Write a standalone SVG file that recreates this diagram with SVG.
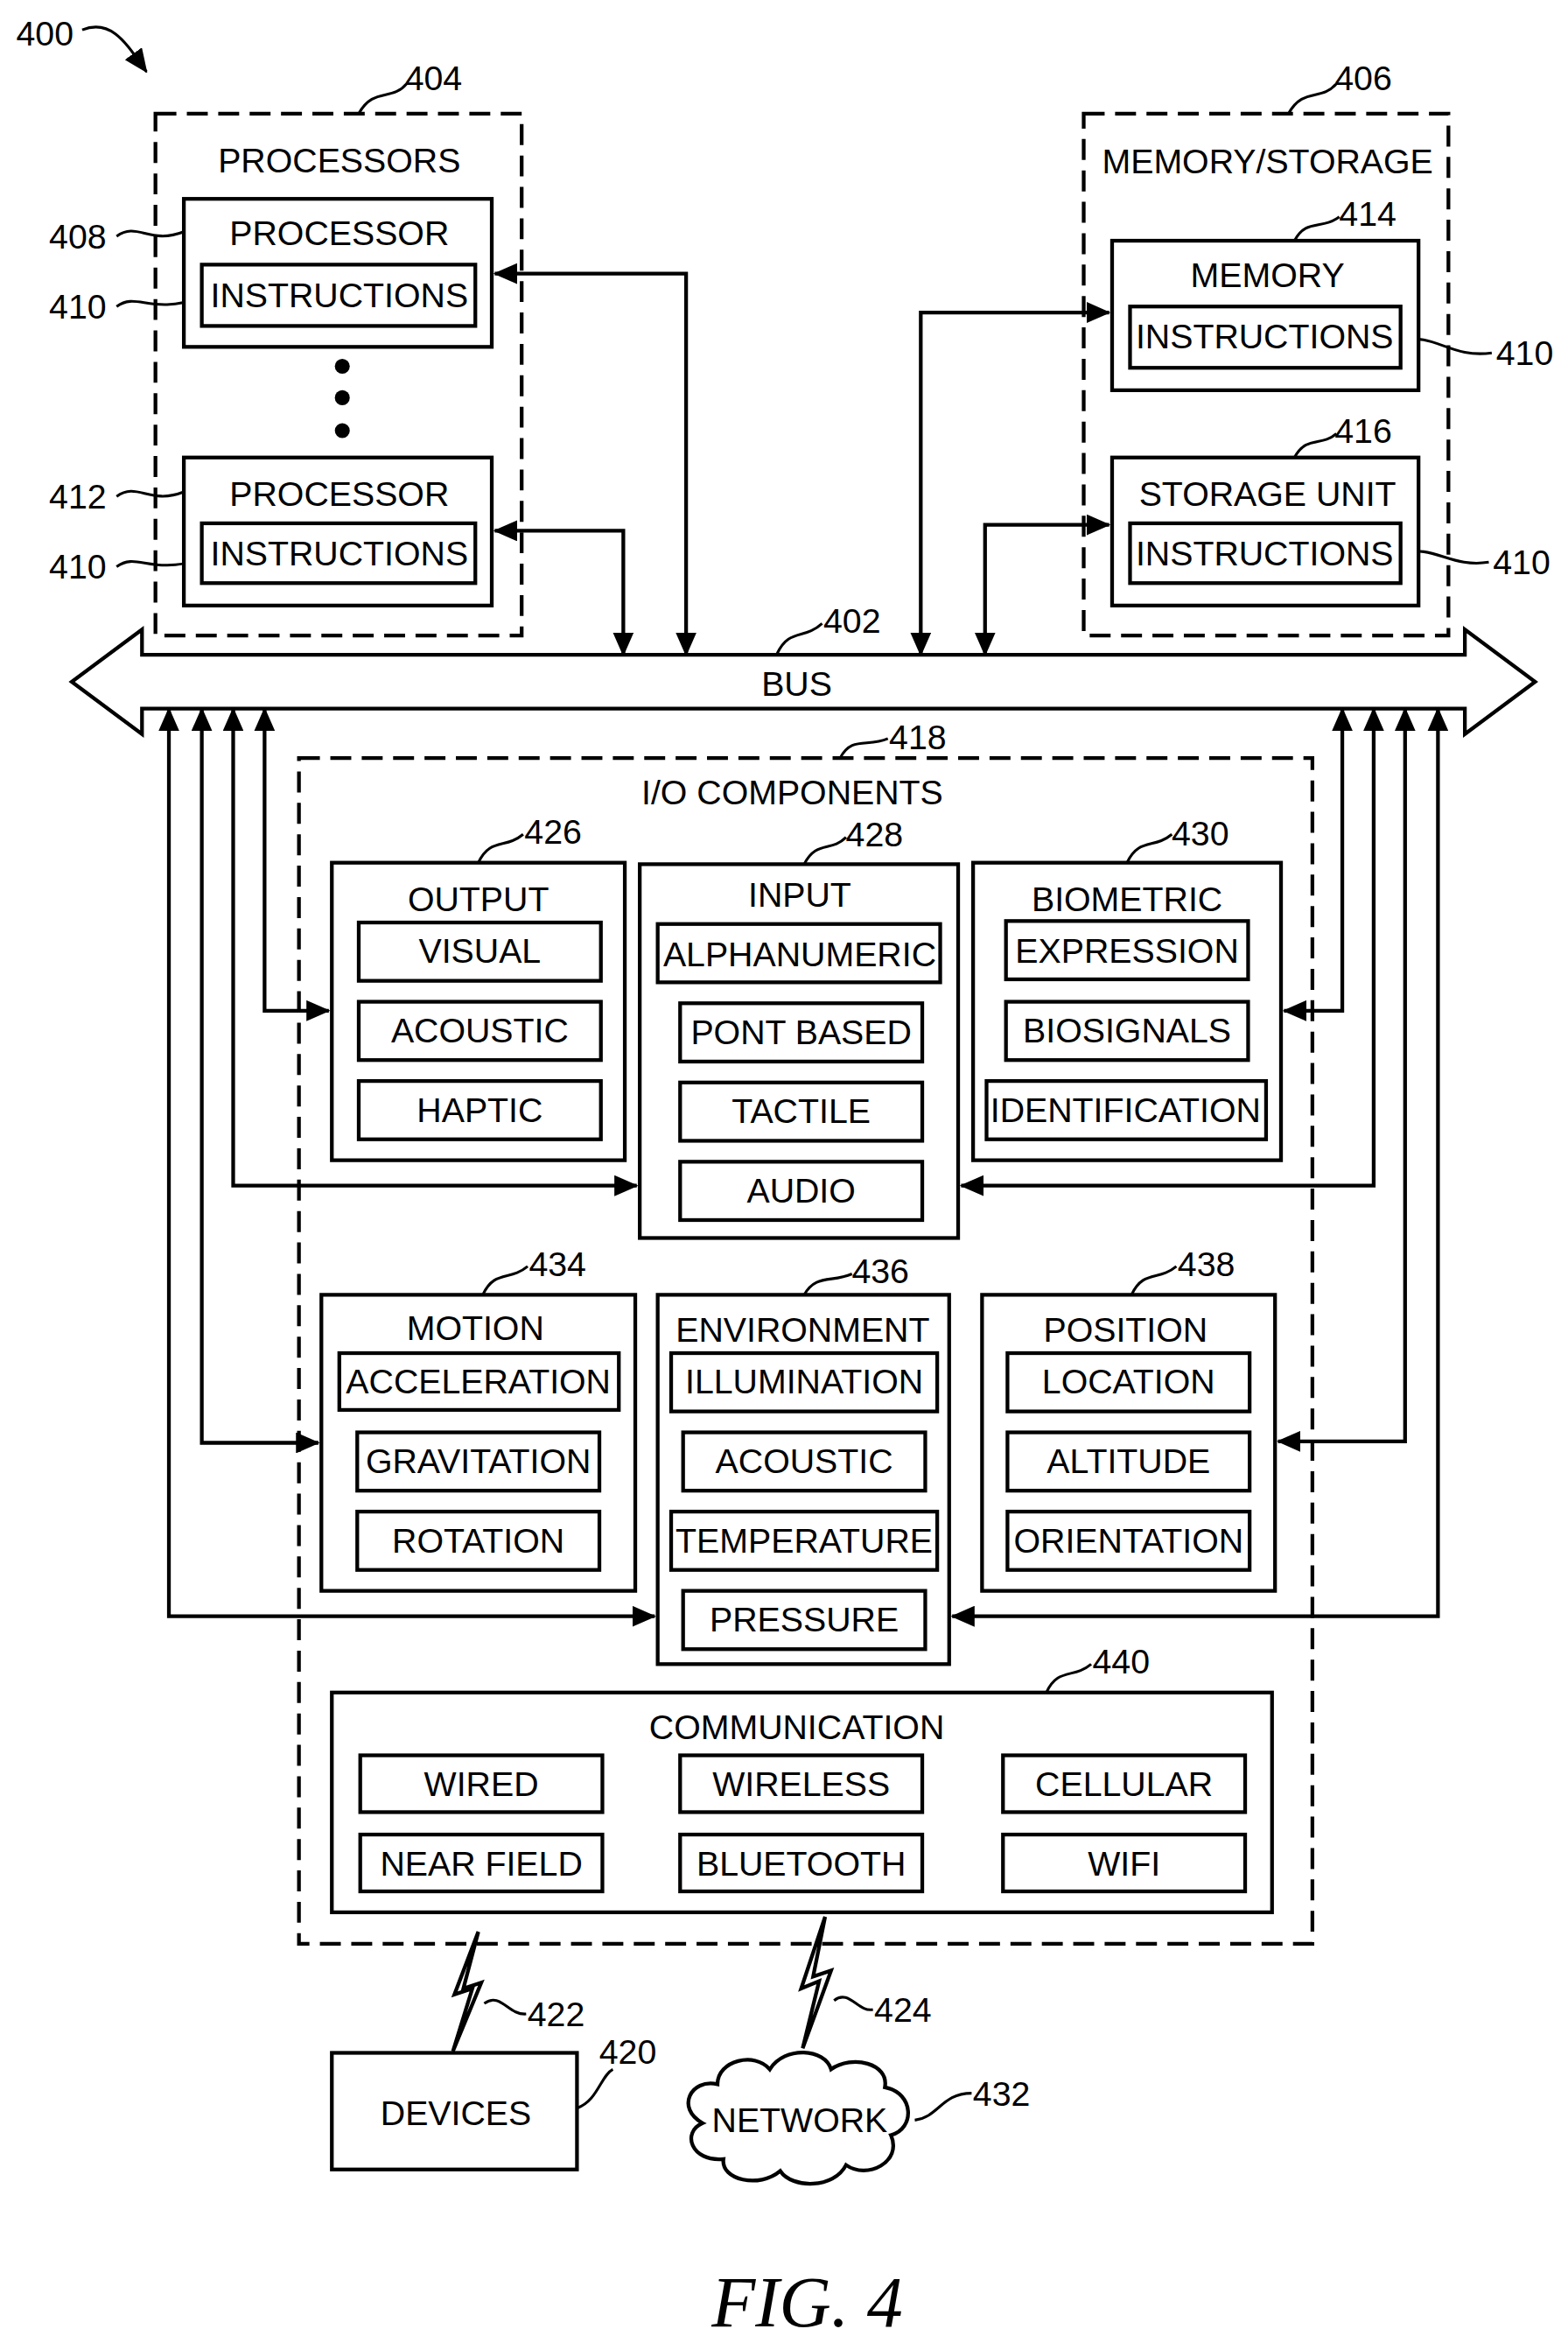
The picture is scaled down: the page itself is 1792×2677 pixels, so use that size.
<svg xmlns="http://www.w3.org/2000/svg" width="1792" height="2677" viewBox="0 0 1792 2677">
<style>
text{font-family:"Liberation Sans",Arial,sans-serif;font-size:23px;fill:#000;text-anchor:middle;dominant-baseline:central}
.l{text-anchor:start}
.b{fill:#fff;stroke:#000;stroke-width:2.5}
.d{fill:none;stroke:#000;stroke-width:2.5;stroke-dasharray:14 7}
.c{fill:none;stroke:#000;stroke-width:2.5}
.ld{fill:none;stroke:#000;stroke-width:1.8}
</style>
<defs>
<marker id="a" markerUnits="userSpaceOnUse" markerWidth="16" markerHeight="14" refX="15" refY="7" orient="auto-start-reverse"><path d="M0,0 L16,7 L0,14 Z"/></marker>
</defs>
<rect width="1792" height="2677" fill="#fff"/>
<g transform="scale(1.7083)">
<g id="labels">
<text x="30" y="22">400</text>
<path class="ld" d="M55,20 C75,12 85,30 98,48" marker-end="url(#a)"/>
<text x="290" y="52">404</text><path class="ld" d="M240,76 C250,58 262,68 272,56"/>
<text x="912" y="52">406</text><path class="ld" d="M862,76 C872,58 884,68 894,56"/>
<text x="52" y="158">408</text><path class="ld" d="M78,158 C92,148 100,164 123,155"/>
<text x="52" y="205">410</text><path class="ld" d="M78,205 C92,195 100,211 135,199"/>
<text x="52" y="332">412</text><path class="ld" d="M78,332 C92,322 100,338 123,329"/>
<text x="52" y="379">410</text><path class="ld" d="M78,379 C92,369 100,385 135,374"/>
<text x="915" y="143">414</text><path class="ld" d="M866,161 C874,146 884,154 896,145"/>
<text x="912" y="288">416</text><path class="ld" d="M866,306 C874,291 884,299 894,290"/>
<text x="1020" y="236">410</text><path class="ld" d="M937,228 C960,222 970,240 998,236"/>
<text x="1018" y="376">410</text><path class="ld" d="M937,370 C960,364 970,380 996,376"/>
<text x="570" y="415">402</text><path class="ld" d="M520,437 C528,420 538,428 550,417"/>
<text x="614" y="493">418</text><path class="ld" d="M562,507 C570,492 580,500 594,494"/>
<text x="370" y="556">426</text><path class="ld" d="M320,577 C328,560 338,568 350,558"/>
<text x="585" y="558">428</text><path class="ld" d="M538,578 C546,562 556,570 566,560"/>
<text x="803" y="557">430</text><path class="ld" d="M754,577 C762,560 772,568 784,558"/>
<text x="373" y="845">434</text><path class="ld" d="M323,866 C331,849 341,857 353,847"/>
<text x="589" y="850">436</text><path class="ld" d="M538,866 C546,852 556,858 570,852"/>
<text x="807" y="845">438</text><path class="ld" d="M757,866 C765,849 775,857 787,847"/>
<text x="750" y="1111">440</text><path class="ld" d="M700,1132 C708,1115 718,1123 730,1113"/>
<text x="372" y="1347">422</text><path class="ld" d="M324,1340 C335,1332 340,1348 352,1347"/>
<text x="604" y="1344">424</text><path class="ld" d="M558,1338 C568,1330 574,1346 584,1344"/>
<text x="420" y="1372">420</text><path class="ld" d="M386,1410 C400,1405 402,1388 410,1384"/>
<text x="670" y="1400">432</text><path class="ld" d="M612,1418 C628,1416 630,1400 650,1400"/>
</g>
<g id="n404"><rect class="d" x="104" y="76" width="245" height="349"/><text x="227" y="107">PROCESSORS</text></g>
<g id="n408"><rect class="b" x="123" y="133" width="206" height="99"/><text x="227" y="156">PROCESSOR</text><rect class="b" x="135" y="177" width="183" height="41"/><text x="227" y="197">INSTRUCTIONS</text></g>
<g id="dots"><circle cx="229" cy="245" r="5"/><circle cx="229" cy="266" r="5"/><circle cx="229" cy="288" r="5"/></g>
<g id="n412"><rect class="b" x="123" y="306" width="206" height="99"/><text x="227" y="330">PROCESSOR</text><rect class="b" x="135" y="350" width="183" height="40"/><text x="227" y="370">INSTRUCTIONS</text></g>
<g id="n406"><rect class="d" x="725" y="76" width="244" height="349"/><text x="848" y="108">MEMORY/STORAGE</text></g>
<g id="n414"><rect class="b" x="744" y="161" width="205" height="100"/><text x="848" y="184">MEMORY</text><rect class="b" x="756" y="205" width="181" height="41"/><text x="846" y="225">INSTRUCTIONS</text></g>
<g id="n416"><rect class="b" x="744" y="306" width="205" height="99"/><text x="848" y="330">STORAGE UNIT</text><rect class="b" x="756" y="350" width="181" height="40"/><text x="846" y="370">INSTRUCTIONS</text></g>
<g id="bus"><path class="b" d="M48,456 L95,421 L95,438 L980,438 L980,421 L1027,456 L980,491 L980,474 L95,474 L95,491 Z"/><text x="533" y="457">BUS</text></g>
<g id="n418"><rect class="d" x="200" y="507" width="678" height="793"/><text x="530" y="530">I/O COMPONENTS</text></g>
<g id="connectors">
<path class="c" d="M459,438 V183 H331" marker-start="url(#a)" marker-end="url(#a)"/>
<path class="c" d="M417,438 V355 H331" marker-start="url(#a)" marker-end="url(#a)"/>
<path class="c" d="M616,438 V209 H742" marker-start="url(#a)" marker-end="url(#a)"/>
<path class="c" d="M659,438 V351 H742" marker-start="url(#a)" marker-end="url(#a)"/>
<path class="c" d="M177,474 V676 H220" marker-start="url(#a)" marker-end="url(#a)"/>
<path class="c" d="M156,474 V793 H426" marker-start="url(#a)" marker-end="url(#a)"/>
<path class="c" d="M135,474 V965 H213" marker-start="url(#a)" marker-end="url(#a)"/>
<path class="c" d="M113,474 V1081 H438" marker-start="url(#a)" marker-end="url(#a)"/>
<path class="c" d="M898,474 V676 H859" marker-start="url(#a)" marker-end="url(#a)"/>
<path class="c" d="M919,474 V793 H643" marker-start="url(#a)" marker-end="url(#a)"/>
<path class="c" d="M940,474 V964 H855" marker-start="url(#a)" marker-end="url(#a)"/>
<path class="c" d="M962,474 V1081 H637" marker-start="url(#a)" marker-end="url(#a)"/>
<path class="c" d="M303,1372 L316,1330 L304,1334 L320,1292 L310,1330 L322,1326 Z" fill="#fff"/>
<path class="c" d="M537,1370 L548,1325 L536,1330 L552,1282 L544,1322 L556,1318 Z" fill="#fff"/>
</g>
<g id="n426"><rect class="b" x="222" y="577" width="196" height="199"/><text x="320" y="601">OUTPUT</text>
<rect class="b" x="240" y="617" width="162" height="39"/><text x="321" y="636">VISUAL</text>
<rect class="b" x="240" y="670" width="162" height="39"/><text x="321" y="689">ACOUSTIC</text>
<rect class="b" x="240" y="723" width="162" height="39"/><text x="321" y="742">HAPTIC</text></g>
<g id="n428"><rect class="b" x="428" y="578" width="213" height="250"/><text x="535" y="598">INPUT</text>
<rect class="b" x="440" y="618" width="189" height="39"/><text x="535" y="638">ALPHANUMERIC</text>
<rect class="b" x="455" y="671" width="162" height="39"/><text x="536" y="690">PONT BASED</text>
<rect class="b" x="455" y="724" width="162" height="39"/><text x="536" y="743">TACTILE</text>
<rect class="b" x="455" y="777" width="162" height="39"/><text x="536" y="796">AUDIO</text></g>
<g id="n430"><rect class="b" x="651" y="577" width="206" height="199"/><text x="754" y="601">BIOMETRIC</text>
<rect class="b" x="673" y="616" width="162" height="39"/><text x="754" y="636">EXPRESSION</text>
<rect class="b" x="673" y="670" width="162" height="39"/><text x="754" y="689">BIOSIGNALS</text>
<rect class="b" x="660" y="723" width="187" height="39"/><text x="753" y="742">IDENTIFICATION</text></g>
<g id="n434"><rect class="b" x="215" y="866" width="210" height="198"/><text x="318" y="888">MOTION</text>
<rect class="b" x="227" y="905" width="187" height="38"/><text x="320" y="924">ACCELERATION</text>
<rect class="b" x="239" y="958" width="162" height="39"/><text x="320" y="977">GRAVITATION</text>
<rect class="b" x="239" y="1011" width="162" height="39"/><text x="320" y="1030">ROTATION</text></g>
<g id="n436"><rect class="b" x="440" y="866" width="195" height="247"/><text x="537" y="889">ENVIRONMENT</text>
<rect class="b" x="449" y="905" width="178" height="39"/><text x="538" y="924">ILLUMINATION</text>
<rect class="b" x="457" y="958" width="162" height="39"/><text x="538" y="977">ACOUSTIC</text>
<rect class="b" x="449" y="1011" width="178" height="39"/><text x="538" y="1030">TEMPERATURE</text>
<rect class="b" x="457" y="1064" width="162" height="39"/><text x="538" y="1083">PRESSURE</text></g>
<g id="n438"><rect class="b" x="657" y="866" width="196" height="198"/><text x="753" y="889">POSITION</text>
<rect class="b" x="674" y="905" width="162" height="39"/><text x="755" y="924">LOCATION</text>
<rect class="b" x="674" y="958" width="162" height="39"/><text x="755" y="977">ALTITUDE</text>
<rect class="b" x="674" y="1011" width="162" height="39"/><text x="755" y="1030">ORIENTATION</text></g>
<g id="n440"><rect class="b" x="222" y="1132" width="629" height="147"/><text x="533" y="1155">COMMUNICATION</text>
<rect class="b" x="241" y="1174" width="162" height="38"/><text x="322" y="1193">WIRED</text>
<rect class="b" x="455" y="1174" width="162" height="38"/><text x="536" y="1193">WIRELESS</text>
<rect class="b" x="671" y="1174" width="162" height="38"/><text x="752" y="1193">CELLULAR</text>
<rect class="b" x="241" y="1227" width="162" height="38"/><text x="322" y="1246">NEAR FIELD</text>
<rect class="b" x="455" y="1227" width="162" height="38"/><text x="536" y="1246">BLUETOOTH</text>
<rect class="b" x="671" y="1227" width="162" height="38"/><text x="752" y="1246">WIFI</text></g>
<g id="n420"><rect class="b" x="222" y="1373" width="164" height="78"/><text x="305" y="1413">DEVICES</text></g>
<g id="n432"><path class="b" d="M470,1420 C452,1410 462,1390 480,1394 C480,1378 505,1372 515,1384 C525,1368 552,1370 556,1384 C570,1374 595,1380 592,1396 C612,1400 612,1424 596,1428 C604,1446 580,1458 566,1448 C558,1464 530,1464 522,1452 C508,1464 482,1458 484,1444 C462,1446 456,1426 470,1420 Z"/><text x="535" y="1418">NETWORK</text></g>
<text x="540" y="1540" style="font-family:'Liberation Serif',serif;font-style:italic;font-size:48px">FIG. 4</text>
</g>
</svg>
